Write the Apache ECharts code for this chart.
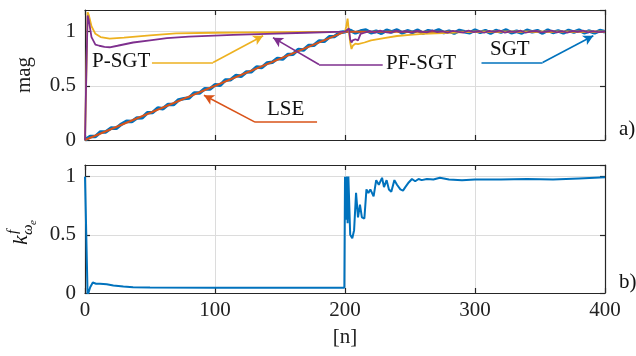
<!DOCTYPE html>
<html><head><meta charset="utf-8">
<script src="https://cdn.jsdelivr.net/npm/echarts@6/dist/echarts.min.js"></script>
<style>html,body{margin:0;padding:0;background:#fff}#c{width:636px;height:356px}</style>
</head><body><div id="c"></div>
<script>
// ---- data ----
const lseN = [0, 200, 400];
const lseV = [0, 1, 1];
const sgtN = [0,4,8,12,16,20,24,28,32,36,40,44,48,52,56,60,64,68,72,76,80,84,88,92,96,100,104,108,112,116,120,124,128,132,136,140,144,148,152,156,160,164,168,172,176,180,184,188,192,196,200,
  204,208,212,216,220,224,228,232,236,240,244,248,252,256,260,264,268,272,276,280,284,288,292,296,300,304,308,312,316,320,324,328,332,336,340,344,348,352,356,360,364,368,372,376,380,384,388,392,396,400];
const sgtV = [0.0,0.032,0.032,0.075,0.075,0.11,0.108,0.146,0.174,0.17,0.204,0.206,0.252,0.254,0.295,0.289,0.328,0.327,0.37,0.382,0.388,0.434,0.433,0.472,0.47,0.509,0.506,0.553,0.556,0.595,0.588,0.627,0.631,0.674,0.669,0.71,0.717,0.753,0.747,0.789,0.792,0.835,0.83,0.872,0.874,0.914,0.911,0.952,0.956,0.992,1.0,
  1.012,0.988,1.006,1.015,0.99,1.004,0.985,1.013,0.997,1.016,0.989,1.008,0.994,1.014,0.986,1.01,0.999,1.017,0.991,1.005,0.987,1.012,1.0,0.99,1.015,0.993,1.009,0.986,1.011,0.996,1.016,0.99,1.004,0.988,1.013,0.998,1.009,0.987,1.014,0.992,1.007,0.989,1.012,0.996,1.015,0.99,1.006,0.988,1.01,1.0];
const psgtN = [0,1,2,3,5,8,12,19,30,50,70,100,150,200,201,202,203,204,205,206,208,210,215,220,230,240,250,260,280,300,400];
const psgtV = [0,0.6,1.18,1.15,1.05,0.98,0.95,0.935,0.945,0.965,0.985,0.99,0.995,1.0,1.05,1.12,1.0,0.9,0.84,0.87,0.89,0.885,0.9,0.92,0.94,0.96,0.97,0.98,0.99,1.0,1.0];
const pfN = [0,1,2,3,5,8,11,15,19,25,37,50,63,80,114,140,170,200,201,203,204,205,206,208,210,212,215,219,223,227,231,235,239,243,247,251,255,259,263,267,271,275,279,283,287,291,295,299,303,307,311,315,319,323,327,331,335,339,343,347,351,355,359,363,367,371,375,379,383,387,391,395,400];
const pfV = [0,0.6,1.15,1.1,0.95,0.88,0.87,0.86,0.856,0.87,0.9,0.92,0.94,0.955,0.97,0.98,0.99,1.0,0.99,1.03,0.93,0.9,0.92,0.93,0.92,0.98,0.99,1.004,0.992,1.009,0.996,0.99,1.01,0.997,1.006,0.991,1.008,1.0,0.993,1.011,0.995,1.003,0.99,1.008,0.998,0.992,1.01,0.996,1.004,0.99,1.007,0.997,1.01,0.992,1.003,0.995,1.009,0.99,1.002,1.008,0.994,1.0,1.01,0.993,1.005,0.991,1.007,0.998,1.01,0.994,1.004,0.996,1.0];
const kN = [0,1,2,4,6,8.5,11.5,16.7,21.8,29.5,37,50,100,150,199.5,200,200.8,201.5,202,202.6,204,205.6,207,208.5,210,211.5,213,214.9,216.5,218,219.5,222,224,226,228.5,230,232,233.8,235.6,238,240,242.6,244.6,246.4,249,251.5,254,256.6,259,263,268,273,280,290,300,320,340,360,380,400];
const kV = [1,1,-0.02,0.05,0.09,0.08,0.08,0.075,0.065,0.055,0.05,0.047,0.046,0.046,0.046,1.0,0.63,1.0,0.6,1.0,0.5,0.47,0.54,0.86,0.65,0.76,0.65,0.64,0.89,0.86,0.89,0.83,0.97,0.93,0.99,0.91,0.97,0.89,0.87,0.97,0.93,0.89,0.88,0.91,0.95,0.98,0.96,0.98,0.97,0.98,0.975,0.99,0.975,0.97,0.975,0.975,0.98,0.975,0.985,0.995];

const pairs = (a, b) => a.map((v, i) => [v, b[i]]);
const FONT = 'Liberation Serif';
const FS = 21;
const AX = '#262626';
const C = {sgt:'#0072BD', lse:'#D95319', psgt:'#EDB120', pf:'#7E2F8E'};

function xAx(grid, pos, labels, name) {
  return {type:'value', gridIndex:grid, position:pos, min:0, max:400, interval:100,
    axisLine:{show:true, onZero:false, lineStyle:{color:AX, width:1.2}},
    axisTick:{show:true, inside:true, length:5, lineStyle:{color:AX, width:1.2}},
    axisLabel:{show:labels, color:'#222', fontFamily:FONT, fontSize:FS, margin:7},
    splitLine:{show:pos==='bottom', lineStyle:{color:'#dcdcdc', width:1}},
    name:name||'', nameLocation:'middle', nameGap:34, nameTextStyle:{color:'#222', fontFamily:FONT, fontSize:FS}};
}
function yAx(grid, pos, max, labels, name) {
  return {type:'value', gridIndex:grid, position:pos, min:0, max:max, interval:0.5,
    axisLine:{show:true, onZero:false, lineStyle:{color:AX, width:1.2}},
    axisTick:{show:true, inside:true, length:5, lineStyle:{color:AX, width:1.2}},
    axisLabel:{show:labels, color:'#222', fontFamily:FONT, fontSize:FS, margin:9, showMaxLabel:false},
    splitLine:{show:pos==='left', lineStyle:{color:'#dcdcdc', width:1}},
    name:name||'', nameLocation:'middle', nameGap:50, nameRotate:90,
    nameTextStyle:{color:'#222', fontFamily:FONT, fontSize:FS}};
}
const arrowLine = (color, pts) => ({
  type:'line', xAxisIndex:0, yAxisIndex:0, data:[], silent:true,
  markLine:{silent:true, animation:false, label:{show:false},
    lineStyle:{color:color, width:1.6, type:'solid'},
    data:[
      [{coord:pts[0], symbol:'none'}, {coord:pts[1], symbol:'none'}],
      [{coord:pts[1], symbol:'none'}, {coord:pts[2], symbol:'arrow', symbolSize:[8,10]}]
    ]}
});
const txt = (s, l, t) => ({type:'text', left:l, top:t, style:{text:s, font:FS + 'px "Liberation Serif"', fill:'#111'}});

const chart = echarts.init(document.getElementById('c'));
chart.setOption({
  animation:false,
  grid:[{left:85, top:10, width:520, height:130}, {left:85, top:165, width:520, height:128}],
  xAxis:[xAx(0,'bottom',false), xAx(0,'top',false), xAx(1,'bottom',true,'[n]'), xAx(1,'top',false)],
  yAxis:[yAx(0,'left',1.2,true,'mag'), yAx(0,'right',1.2,false), yAx(1,'left',1.1,true), yAx(1,'right',1.1,false)],
  series:[
    {name:'SGT', type:'line', xAxisIndex:0, yAxisIndex:0, data:pairs(sgtN,sgtV), showSymbol:false, lineStyle:{color:C.sgt, width:3.5}, itemStyle:{color:C.sgt}},
    {name:'LSE', type:'line', xAxisIndex:0, yAxisIndex:0, data:pairs(lseN,lseV), showSymbol:false, lineStyle:{color:C.lse, width:2}, itemStyle:{color:C.lse}},
    {name:'P-SGT', type:'line', xAxisIndex:0, yAxisIndex:0, data:pairs(psgtN,psgtV), showSymbol:false, lineStyle:{color:C.psgt, width:1.8}, itemStyle:{color:C.psgt}},
    {name:'PF-SGT', type:'line', xAxisIndex:0, yAxisIndex:0, data:pairs(pfN,pfV), showSymbol:false, lineStyle:{color:C.pf, width:1.8}, itemStyle:{color:C.pf}},
    {name:'k', type:'line', xAxisIndex:2, yAxisIndex:2, data:pairs(kN,kV), showSymbol:false, lineStyle:{color:C.sgt, width:2}, itemStyle:{color:C.sgt}},
    arrowLine(C.psgt, [[51.5,0.716],[98.5,0.716],[137,0.963]]),
    arrowLine(C.pf, [[229,0.697],[180,0.697],[144.6,0.945]]),
    arrowLine(C.lse, [[178.5,0.165],[130.8,0.165],[91.5,0.413]]),
    arrowLine(C.sgt, [[305,0.716],[352,0.716],[391,0.963]])
  ],
  graphic:[
    txt('P-SGT', 92, 51), txt('PF-SGT', 386, 53), txt('SGT', 490, 39), txt('LSE', 267, 99),
    txt('a)', 619, 119), txt('b)', 619, 272),
    {type:'group', x:32, y:245, rotation:Math.PI/2, children:[
      {type:'text', x:0, y:0, style:{text:'k', font:'italic 22px "Liberation Serif"', fill:'#111', textVerticalAlign:'bottom'}},
      {type:'text', x:11, y:-11, style:{text:'f', font:'italic 15px "Liberation Serif"', fill:'#111', textVerticalAlign:'bottom'}},
      {type:'text', x:10, y:4, style:{text:'ω', font:'italic 15px "Liberation Serif"', fill:'#111', textVerticalAlign:'bottom'}},
      {type:'text', x:20, y:7, style:{text:'e', font:'italic 11px "Liberation Serif"', fill:'#111', textVerticalAlign:'bottom'}}
    ]}
  ]
});
</script></body></html>
